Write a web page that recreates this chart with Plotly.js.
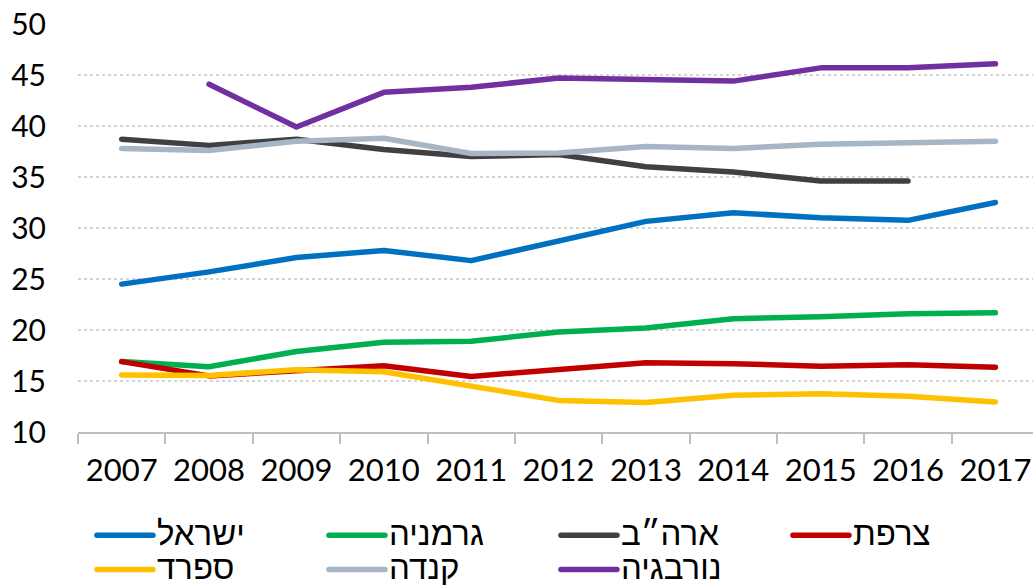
<!DOCTYPE html>
<html>
<head>
<meta charset="utf-8">
<script src="https://cdn.plot.ly/plotly-3.0.1.min.js"></script>
<style>html,body{margin:0;padding:0;background:#fff;}#chart{width:1033px;height:587px;}</style>
</head>
<body>
<div id="chart"></div>
<script>
const years = ['2007','2008','2009','2010','2011','2012','2013','2014','2015','2016','2017'];
const seriesNames = ['ישראל','גרמניה','ארה״ב','צרפת','ספרד','קנדה','נורבגיה'];
const israel  = [24.5, 25.7, 27.1, 27.8, 26.8, 28.7, 30.65, 31.5, 31.0, 30.75, 32.5];
const germany = [16.9, 16.4, 17.9, 18.8, 18.9, 19.8, 20.2, 21.1, 21.3, 21.6, 21.7];
const usa     = [38.7, 38.1, 38.7, 37.7, 37.0, 37.2, 36.0, 35.5, 34.6, 34.6, null];
const france  = [16.9, 15.5, 16.0, 16.5, 15.45, 16.1, 16.8, 16.7, 16.45, 16.6, 16.35];
const spain   = [15.6, 15.55, 16.1, 15.9, 14.5, 13.1, 12.9, 13.6, 13.75, 13.5, 12.95];
const canada  = [37.8, 37.6, 38.5, 38.8, 37.3, 37.35, 38.0, 37.8, 38.2, 38.3, 38.5];
const norway  = [null, 44.1, 39.9, 43.3, 43.8, 44.7, 44.5, 44.4, 45.7, 45.7, 46.1];
const yTicks = [10, 15, 20, 25, 30, 35, 40, 45, 50];

const values = [israel, germany, usa, france, spain, canada, norway];
const colors = ['#0070C0','#00B050','#404040','#C00000','#FFC000','#A6B6C4','#7030A0'];

const traces = values.map((v, i) => ({
  type: 'scatter', mode: 'lines', x: years, y: v, name: seriesNames[i],
  line: {color: colors[i], width: 5.5}, connectgaps: false, hoverinfo: 'skip'
}));

const layout = {
  width: 1033, height: 587,
  margin: {l: 78, r: 0, t: 24, b: 155, autoexpand: false},
  paper_bgcolor: '#fff', plot_bgcolor: '#fff',
  showlegend: true,
  font: {family: 'Lato, sans-serif', color: '#000'},
  xaxis: {
    type: 'category', range: [-0.5, 10.43], tickson: 'boundaries',
    ticks: 'outside', ticklen: 10, tickcolor: '#BFBFBF', tickwidth: 2,
    showline: true, linecolor: '#BFBFBF', linewidth: 2,
    showgrid: false, zeroline: false, automargin: false,
    tickfont: {family: 'Lato, sans-serif', size: 31, color: '#000'},
    ticklabelstandoff: 10
  },
  yaxis: {
    range: [10, 50], tickvals: yTicks, ticktext: yTicks.map(String),
    showgrid: true, gridcolor: '#D3D3D3', griddash: 'dot', gridwidth: 1.5,
    zeroline: false, showline: false, ticks: '', automargin: false,
    tickfont: {family: 'Lato, sans-serif', size: 30, color: '#000'},
    ticklabelstandoff: 31
  },
  legend: {
    orientation: 'h', x: 0.0408, xanchor: 'left', y: -0.199, yanchor: 'top',
    entrywidth: 187, entrywidthmode: 'pixels',
    font: {family: 'Liberation Sans, DejaVu Sans, sans-serif', size: 24, color: '#000'},
    traceorder: 'normal', tracegroupgap: 0
  }
};

Plotly.newPlot('chart', traces, layout, {staticPlot: true}).then(gd => {
  const sb = gd.querySelector('.legend .scrollbox');
  if (sb) sb.removeAttribute('clip-path');
  gd.querySelectorAll('.legend .legendlines path').forEach(p => {
    p.setAttribute('d', 'M-20,0h56');
    p.style.strokeLinecap = 'round';
  });
  gd.querySelectorAll('.legend .legendtext').forEach(t => {
    t.style.fontSize = '33px';
  });
  gd.querySelectorAll('.scatterlayer .js-line').forEach(p => {
    p.style.strokeLinecap = 'round';
    p.style.strokeLinejoin = 'round';
  });
});
</script>
</body>
</html>
